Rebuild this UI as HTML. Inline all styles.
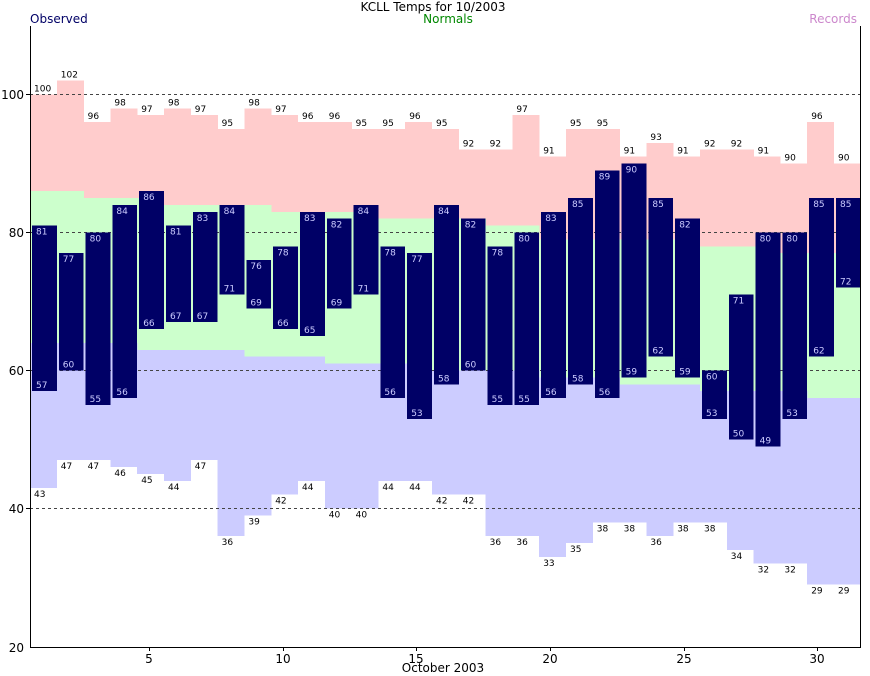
<!DOCTYPE html>
<html><head><meta charset="utf-8"><style>
html,body{margin:0;padding:0;background:#fff;}
svg{display:block;font-family:"DejaVu Sans","Liberation Sans",sans-serif;}
</style></head><body>
<svg width="870" height="676" viewBox="0 0 870 676" xmlns="http://www.w3.org/2000/svg">
<rect width="870" height="676" fill="#fff"/>
<g transform="matrix(1,0,0,-6.9,0,784.5)" shape-rendering="crispEdges">
<!-- pink: normal high to record high -->
<g fill="#ffcccc">
<rect x="30" y="86" width="27" height="14"/><rect x="56.8" y="86" width="27" height="16"/><rect x="83.6" y="85" width="27" height="11"/><rect x="110.4" y="85" width="27" height="13"/><rect x="137.2" y="85" width="27" height="12"/><rect x="164" y="84" width="27" height="14"/><rect x="190.8" y="84" width="27" height="13"/><rect x="217.6" y="84" width="27" height="11"/><rect x="244.4" y="84" width="27" height="14"/><rect x="271.2" y="83" width="27" height="14"/><rect x="298" y="83" width="27" height="13"/><rect x="324.8" y="83" width="27" height="13"/><rect x="351.6" y="83" width="27" height="12"/><rect x="378.4" y="82" width="27" height="13"/><rect x="405.2" y="82" width="27" height="14"/><rect x="432" y="82" width="27" height="13"/><rect x="458.8" y="82" width="27" height="10"/><rect x="485.6" y="81" width="27" height="11"/><rect x="512.4" y="81" width="27" height="16"/><rect x="539.2" y="79" width="27" height="12"/><rect x="566" y="79" width="27" height="16"/><rect x="592.8" y="79" width="27" height="16"/><rect x="619.6" y="79" width="27" height="12"/><rect x="646.4" y="79" width="27" height="14"/><rect x="673.2" y="79" width="27" height="12"/><rect x="700" y="78" width="27" height="14"/><rect x="726.8" y="78" width="27" height="14"/><rect x="753.6" y="78" width="27" height="13"/><rect x="780.4" y="77" width="27" height="13"/><rect x="807.2" y="77" width="27" height="19"/><rect x="834" y="77" width="27" height="13"/>
</g>
<g fill="#ccffcc">
<rect x="30" y="64" width="27" height="22"/><rect x="56.8" y="64" width="27" height="22"/><rect x="83.6" y="64" width="27" height="21"/><rect x="110.4" y="64" width="27" height="21"/><rect x="137.2" y="63" width="27" height="22"/><rect x="164" y="63" width="27" height="21"/><rect x="190.8" y="63" width="27" height="21"/><rect x="217.6" y="63" width="27" height="21"/><rect x="244.4" y="62" width="27" height="22"/><rect x="271.2" y="62" width="27" height="21"/><rect x="298" y="62" width="27" height="21"/><rect x="324.8" y="61" width="27" height="22"/><rect x="351.6" y="61" width="27" height="22"/><rect x="378.4" y="61" width="27" height="21"/><rect x="405.2" y="61" width="27" height="21"/><rect x="432" y="60" width="27" height="22"/><rect x="458.8" y="60" width="27" height="22"/><rect x="485.6" y="60" width="27" height="21"/><rect x="512.4" y="60" width="27" height="21"/><rect x="539.2" y="59" width="27" height="20"/><rect x="566" y="59" width="27" height="20"/><rect x="592.8" y="59" width="27" height="20"/><rect x="619.6" y="58" width="27" height="21"/><rect x="646.4" y="58" width="27" height="21"/><rect x="673.2" y="58" width="27" height="21"/><rect x="700" y="57" width="27" height="21"/><rect x="726.8" y="57" width="27" height="21"/><rect x="753.6" y="57" width="27" height="21"/><rect x="780.4" y="57" width="27" height="20"/><rect x="807.2" y="56" width="27" height="21"/><rect x="834" y="56" width="27" height="21"/>
</g>
<g fill="#ccccff">
<rect x="30" y="43" width="27" height="21"/><rect x="56.8" y="47" width="27" height="17"/><rect x="83.6" y="47" width="27" height="17"/><rect x="110.4" y="46" width="27" height="18"/><rect x="137.2" y="45" width="27" height="18"/><rect x="164" y="44" width="27" height="19"/><rect x="190.8" y="47" width="27" height="16"/><rect x="217.6" y="36" width="27" height="27"/><rect x="244.4" y="39" width="27" height="23"/><rect x="271.2" y="42" width="27" height="20"/><rect x="298" y="44" width="27" height="18"/><rect x="324.8" y="40" width="27" height="21"/><rect x="351.6" y="40" width="27" height="21"/><rect x="378.4" y="44" width="27" height="17"/><rect x="405.2" y="44" width="27" height="17"/><rect x="432" y="42" width="27" height="18"/><rect x="458.8" y="42" width="27" height="18"/><rect x="485.6" y="36" width="27" height="24"/><rect x="512.4" y="36" width="27" height="24"/><rect x="539.2" y="33" width="27" height="26"/><rect x="566" y="35" width="27" height="24"/><rect x="592.8" y="38" width="27" height="21"/><rect x="619.6" y="38" width="27" height="20"/><rect x="646.4" y="36" width="27" height="22"/><rect x="673.2" y="38" width="27" height="20"/><rect x="700" y="38" width="27" height="19"/><rect x="726.8" y="34" width="27" height="23"/><rect x="753.6" y="32" width="27" height="25"/><rect x="780.4" y="32" width="27" height="25"/><rect x="807.2" y="29" width="27" height="27"/><rect x="834" y="29" width="27" height="27"/>
</g>
</g>
<!-- gridlines -->
<g stroke="#444" stroke-width="1" stroke-dasharray="3,3">
<line x1="30" y1="94.5" x2="861" y2="94.5"/><line x1="30" y1="232.5" x2="861" y2="232.5"/><line x1="30" y1="370.5" x2="861" y2="370.5"/><line x1="30" y1="508.5" x2="861" y2="508.5"/>
</g>
<!-- observed bars -->
<g transform="matrix(1,0,0,-6.9,0,784.5)" fill="#000066" shape-rendering="crispEdges">
<rect x="32" y="57" width="24.8" height="24"/><rect x="58.8" y="60" width="24.8" height="17"/><rect x="85.6" y="55" width="24.8" height="25"/><rect x="112.4" y="56" width="24.8" height="28"/><rect x="139.2" y="66" width="24.8" height="20"/><rect x="166" y="67" width="24.8" height="14"/><rect x="192.8" y="67" width="24.8" height="16"/><rect x="219.6" y="71" width="24.8" height="13"/><rect x="246.4" y="69" width="24.8" height="7"/><rect x="273.2" y="66" width="24.8" height="12"/><rect x="300" y="65" width="24.8" height="18"/><rect x="326.8" y="69" width="24.8" height="13"/><rect x="353.6" y="71" width="24.8" height="13"/><rect x="380.4" y="56" width="24.8" height="22"/><rect x="407.2" y="53" width="24.8" height="24"/><rect x="434" y="58" width="24.8" height="26"/><rect x="460.8" y="60" width="24.8" height="22"/><rect x="487.6" y="55" width="24.8" height="23"/><rect x="514.4" y="55" width="24.8" height="25"/><rect x="541.2" y="56" width="24.8" height="27"/><rect x="568" y="58" width="24.8" height="27"/><rect x="594.8" y="56" width="24.8" height="33"/><rect x="621.6" y="59" width="24.8" height="31"/><rect x="648.4" y="62" width="24.8" height="23"/><rect x="675.2" y="59" width="24.8" height="23"/><rect x="702" y="53" width="24.8" height="7"/><rect x="728.8" y="50" width="24.8" height="21"/><rect x="755.6" y="49" width="24.8" height="31"/><rect x="782.4" y="53" width="24.8" height="27"/><rect x="809.2" y="62" width="24.8" height="23"/><rect x="836" y="72" width="24.8" height="13"/>
</g>
<!-- record labels -->
<g font-size="9" fill="#000">
<text x="34" y="91.5">100</text><text x="60.8" y="77.7">102</text><text x="87.6" y="119.1">96</text><text x="114.4" y="105.3">98</text><text x="141.2" y="112.2">97</text><text x="168" y="105.3">98</text><text x="194.8" y="112.2">97</text><text x="221.6" y="126">95</text><text x="248.4" y="105.3">98</text><text x="275.2" y="112.2">97</text><text x="302" y="119.1">96</text><text x="328.8" y="119.1">96</text><text x="355.6" y="126">95</text><text x="382.4" y="126">95</text><text x="409.2" y="119.1">96</text><text x="436" y="126">95</text><text x="462.8" y="146.7">92</text><text x="489.6" y="146.7">92</text><text x="516.4" y="112.2">97</text><text x="543.2" y="153.6">91</text><text x="570" y="126">95</text><text x="596.8" y="126">95</text><text x="623.6" y="153.6">91</text><text x="650.4" y="139.8">93</text><text x="677.2" y="153.6">91</text><text x="704" y="146.7">92</text><text x="730.8" y="146.7">92</text><text x="757.6" y="153.6">91</text><text x="784.4" y="160.5">90</text><text x="811.2" y="119.1">96</text><text x="838" y="160.5">90</text>
<text x="34" y="496.8">43</text><text x="60.8" y="469.2">47</text><text x="87.6" y="469.2">47</text><text x="114.4" y="476.1">46</text><text x="141.2" y="483">45</text><text x="168" y="489.9">44</text><text x="194.8" y="469.2">47</text><text x="221.6" y="545.1">36</text><text x="248.4" y="524.4">39</text><text x="275.2" y="503.7">42</text><text x="302" y="489.9">44</text><text x="328.8" y="517.5">40</text><text x="355.6" y="517.5">40</text><text x="382.4" y="489.9">44</text><text x="409.2" y="489.9">44</text><text x="436" y="503.7">42</text><text x="462.8" y="503.7">42</text><text x="489.6" y="545.1">36</text><text x="516.4" y="545.1">36</text><text x="543.2" y="565.8">33</text><text x="570" y="552">35</text><text x="596.8" y="531.3">38</text><text x="623.6" y="531.3">38</text><text x="650.4" y="545.1">36</text><text x="677.2" y="531.3">38</text><text x="704" y="531.3">38</text><text x="730.8" y="558.9">34</text><text x="757.6" y="572.7">32</text><text x="784.4" y="572.7">32</text><text x="811.2" y="593.4">29</text><text x="838" y="593.4">29</text>
</g>
<!-- observed labels -->
<g font-size="9" fill="#ccccff">
<text x="36" y="234.6">81</text><text x="62.8" y="262.2">77</text><text x="89.6" y="241.5">80</text><text x="116.4" y="213.9">84</text><text x="143.2" y="200.1">86</text><text x="170" y="234.6">81</text><text x="196.8" y="220.8">83</text><text x="223.6" y="213.9">84</text><text x="250.4" y="269.1">76</text><text x="277.2" y="255.3">78</text><text x="304" y="220.8">83</text><text x="330.8" y="227.7">82</text><text x="357.6" y="213.9">84</text><text x="384.4" y="255.3">78</text><text x="411.2" y="262.2">77</text><text x="438" y="213.9">84</text><text x="464.8" y="227.7">82</text><text x="491.6" y="255.3">78</text><text x="518.4" y="241.5">80</text><text x="545.2" y="220.8">83</text><text x="572" y="207">85</text><text x="598.8" y="179.4">89</text><text x="625.6" y="172.5">90</text><text x="652.4" y="207">85</text><text x="679.2" y="227.7">82</text><text x="706" y="379.5">60</text><text x="732.8" y="303.6">71</text><text x="759.6" y="241.5">80</text><text x="786.4" y="241.5">80</text><text x="813.2" y="207">85</text><text x="840" y="207">85</text>
<text x="36" y="388.2">57</text><text x="62.8" y="367.5">60</text><text x="89.6" y="402">55</text><text x="116.4" y="395.1">56</text><text x="143.2" y="326.1">66</text><text x="170" y="319.2">67</text><text x="196.8" y="319.2">67</text><text x="223.6" y="291.6">71</text><text x="250.4" y="305.4">69</text><text x="277.2" y="326.1">66</text><text x="304" y="333">65</text><text x="330.8" y="305.4">69</text><text x="357.6" y="291.6">71</text><text x="384.4" y="395.1">56</text><text x="411.2" y="415.8">53</text><text x="438" y="381.3">58</text><text x="464.8" y="367.5">60</text><text x="491.6" y="402">55</text><text x="518.4" y="402">55</text><text x="545.2" y="395.1">56</text><text x="572" y="381.3">58</text><text x="598.8" y="395.1">56</text><text x="625.6" y="374.4">59</text><text x="652.4" y="353.7">62</text><text x="679.2" y="374.4">59</text><text x="706" y="415.8">53</text><text x="732.8" y="436.5">50</text><text x="759.6" y="443.4">49</text><text x="786.4" y="415.8">53</text><text x="813.2" y="353.7">62</text><text x="840" y="284.7">72</text>
</g>
<!-- axes -->
<g stroke="#000" stroke-width="1" shape-rendering="crispEdges">
<line x1="30.5" y1="26" x2="30.5" y2="647"/><line x1="30" y1="647.5" x2="861" y2="647.5"/><line x1="860.5" y1="26" x2="860.5" y2="647"/>
<line x1="26" y1="94.5" x2="30" y2="94.5"/><line x1="26" y1="232.5" x2="30" y2="232.5"/><line x1="26" y1="370.5" x2="30" y2="370.5"/><line x1="26" y1="508.5" x2="30" y2="508.5"/>
<line x1="149.5" y1="647" x2="149.5" y2="651"/><line x1="283.5" y1="647" x2="283.5" y2="651"/><line x1="416.5" y1="647" x2="416.5" y2="651"/><line x1="550.5" y1="647" x2="550.5" y2="651"/><line x1="684.5" y1="647" x2="684.5" y2="651"/><line x1="817.5" y1="647" x2="817.5" y2="651"/>
</g>
<g font-size="12" fill="#000" text-anchor="end">
<text x="24" y="99">100</text><text x="24" y="237">80</text><text x="24" y="375">60</text><text x="24" y="513">40</text><text x="24" y="652">20</text>
</g>
<g font-size="12" fill="#000" text-anchor="middle">
<text x="149" y="663">5</text><text x="283" y="663">10</text><text x="416" y="663">15</text><text x="550" y="663">20</text><text x="684" y="663">25</text><text x="817" y="663">30</text>
<text x="443" y="672">October 2003</text>
<text x="433" y="11">KCLL Temps for 10/2003</text>
<text x="448" y="23" fill="#008800">Normals</text>
</g>
<text x="30" y="23" font-size="12" fill="#000066">Observed</text>
<text x="857" y="23" font-size="12" fill="#cc88cc" text-anchor="end">Records</text>
</svg>
</body></html>
